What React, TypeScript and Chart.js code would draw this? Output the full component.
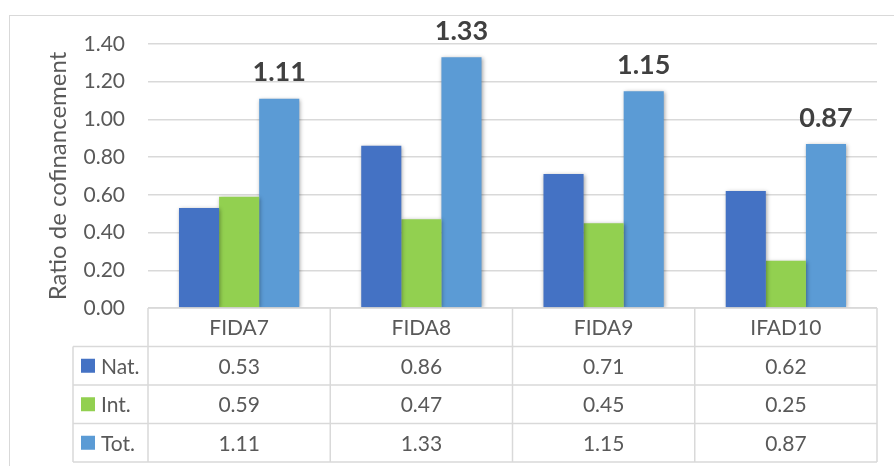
import React, { useEffect, useRef } from "react";
import { Chart, registerables } from "chart.js";

Chart.register(...registerables);

const categories = ["FIDA7", "FIDA8", "FIDA9", "IFAD10"];
const seriesNames = ["Nat.", "Int.", "Tot."];
const natValues = [0.53, 0.86, 0.71, 0.62];
const intValues = [0.59, 0.47, 0.45, 0.25];
const totValues = [1.11, 1.33, 1.15, 0.87];
const seriesColors = ["#4472C4", "#92D050", "#5B9BD5"];
const yTitle = "Ratio de cofinancement";
const yMin = 0;
const yMax = 1.4;
const yStep = 0.2;

const FONT = "Lato, 'Open Sans', sans-serif";
const TEXT = "#595959";
const LINE = "#d9d9d9";

const allSeries = [natValues, intValues, totValues];

const tablePlugin = {
  id: "tableAndLabels",
  beforeDraw(chart: any) {
    const ctx = chart.ctx;
    ctx.save();
    ctx.fillStyle = "#ffffff";
    ctx.fillRect(0, 0, chart.width, chart.height);
    ctx.strokeStyle = LINE;
    ctx.lineWidth = 1;
    ctx.strokeRect(9.5, 15.5, chart.width, chart.height);
    ctx.restore();
  },
  beforeDatasetsDraw(chart: any) {
    const ctx = chart.ctx;
    ctx.save();
    ctx.shadowColor = "rgba(0,0,0,0.35)";
    ctx.shadowBlur = 4;
    ctx.shadowOffsetX = 1;
    ctx.shadowOffsetY = 1;
  },
  afterDatasetsDraw(chart: any) {
    const ctx = chart.ctx;
    ctx.restore();
    const area = chart.chartArea;
    const y = chart.scales.y;

    // labels above total bars
    const totMeta = chart.getDatasetMeta(2);
    ctx.save();
    ctx.font = `bold 27px ${FONT}`;
    ctx.fillStyle = "#404040";
    ctx.textAlign = "center";
    ctx.textBaseline = "middle";
    totMeta.data.forEach((bar: any, i: number) => {
      ctx.fillText(totValues[i].toFixed(2), bar.x, bar.y - 26);
    });
    ctx.restore();

    // data table
    const n = categories.length;
    const colW = (area.right - area.left) / n;
    const rowH = 38.5;
    const top = y.getPixelForValue(0);
    const legendLeft = 73;
    const rows = allSeries.length;
    const bottom = top + rowH * (rows + 1);

    ctx.save();
    ctx.strokeStyle = LINE;
    ctx.lineWidth = 1.5;
    ctx.beginPath();
    ctx.moveTo(area.left, top);
    ctx.lineTo(area.right, top);
    for (let r = 1; r <= rows + 1; r++) {
      const yy = top + rowH * r;
      ctx.moveTo(legendLeft, yy);
      ctx.lineTo(area.right, yy);
    }
    ctx.moveTo(legendLeft, top + rowH);
    ctx.lineTo(legendLeft, bottom);
    for (let c = 0; c <= n; c++) {
      const xx = area.left + colW * c;
      ctx.moveTo(xx, top);
      ctx.lineTo(xx, bottom);
    }
    ctx.stroke();

    ctx.font = `21px ${FONT}`;
    ctx.fillStyle = TEXT;
    ctx.textAlign = "center";
    ctx.textBaseline = "middle";
    categories.forEach((cat, i) => {
      ctx.fillText(cat, area.left + colW * (i + 0.5), top + rowH / 2 + 1);
    });
    allSeries.forEach((vals, r) => {
      const cy = top + rowH * (r + 1.5) + 1;
      vals.forEach((v, i) => {
        ctx.fillText(v.toFixed(2), area.left + colW * (i + 0.5), cy);
      });
    });
    ctx.textAlign = "left";
    seriesNames.forEach((name, r) => {
      const cy = top + rowH * (r + 1.5);
      ctx.fillStyle = seriesColors[r];
      ctx.fillRect(legendLeft + 8, cy - 7, 14, 14);
      ctx.fillStyle = TEXT;
      ctx.fillText(name, legendLeft + 28, cy + 1);
    });
    ctx.restore();
  },
};

export default function App() {
  const ref = useRef<HTMLCanvasElement>(null);

  useEffect(() => {
    if (!ref.current) return;
    const chart = new Chart(ref.current, {
      type: "bar",
      data: {
        labels: categories,
        datasets: seriesNames.map((name, i) => ({
          label: name,
          data: allSeries[i],
          backgroundColor: seriesColors[i],
          borderWidth: 0,
          categoryPercentage: 0.66,
          barPercentage: 1,
        })),
      },
      options: {
        responsive: false,
        animation: false,
        devicePixelRatio: 1,
        layout: { padding: { left: 0, right: 17, top: 44, bottom: 158 } },
        plugins: {
          legend: { display: false },
          tooltip: { enabled: false },
        },
        scales: {
          x: { display: false },
          y: {
            min: yMin,
            max: yMax,
            afterFit: (s: any) => {
              s.width = 148;
            },
            border: { display: false },
            grid: { color: LINE, lineWidth: 1.5, drawTicks: false },
            ticks: {
              stepSize: yStep,
              padding: 23,
              color: TEXT,
              font: { family: FONT, size: 21 },
              callback: (v: any) => Number(v).toFixed(2),
            },
            title: {
              display: true,
              text: yTitle,
              color: TEXT,
              font: { family: FONT, size: 24 },
              padding: { top: 44, bottom: 0 },
            },
          },
        },
      },
      plugins: [tablePlugin],
    } as any);
    return () => chart.destroy();
  }, []);

  return (
    <div style={{ position: "fixed", left: 0, top: 0, width: 894, height: 466 }}>
      <canvas ref={ref} width={894} height={466} />
    </div>
  );
}
